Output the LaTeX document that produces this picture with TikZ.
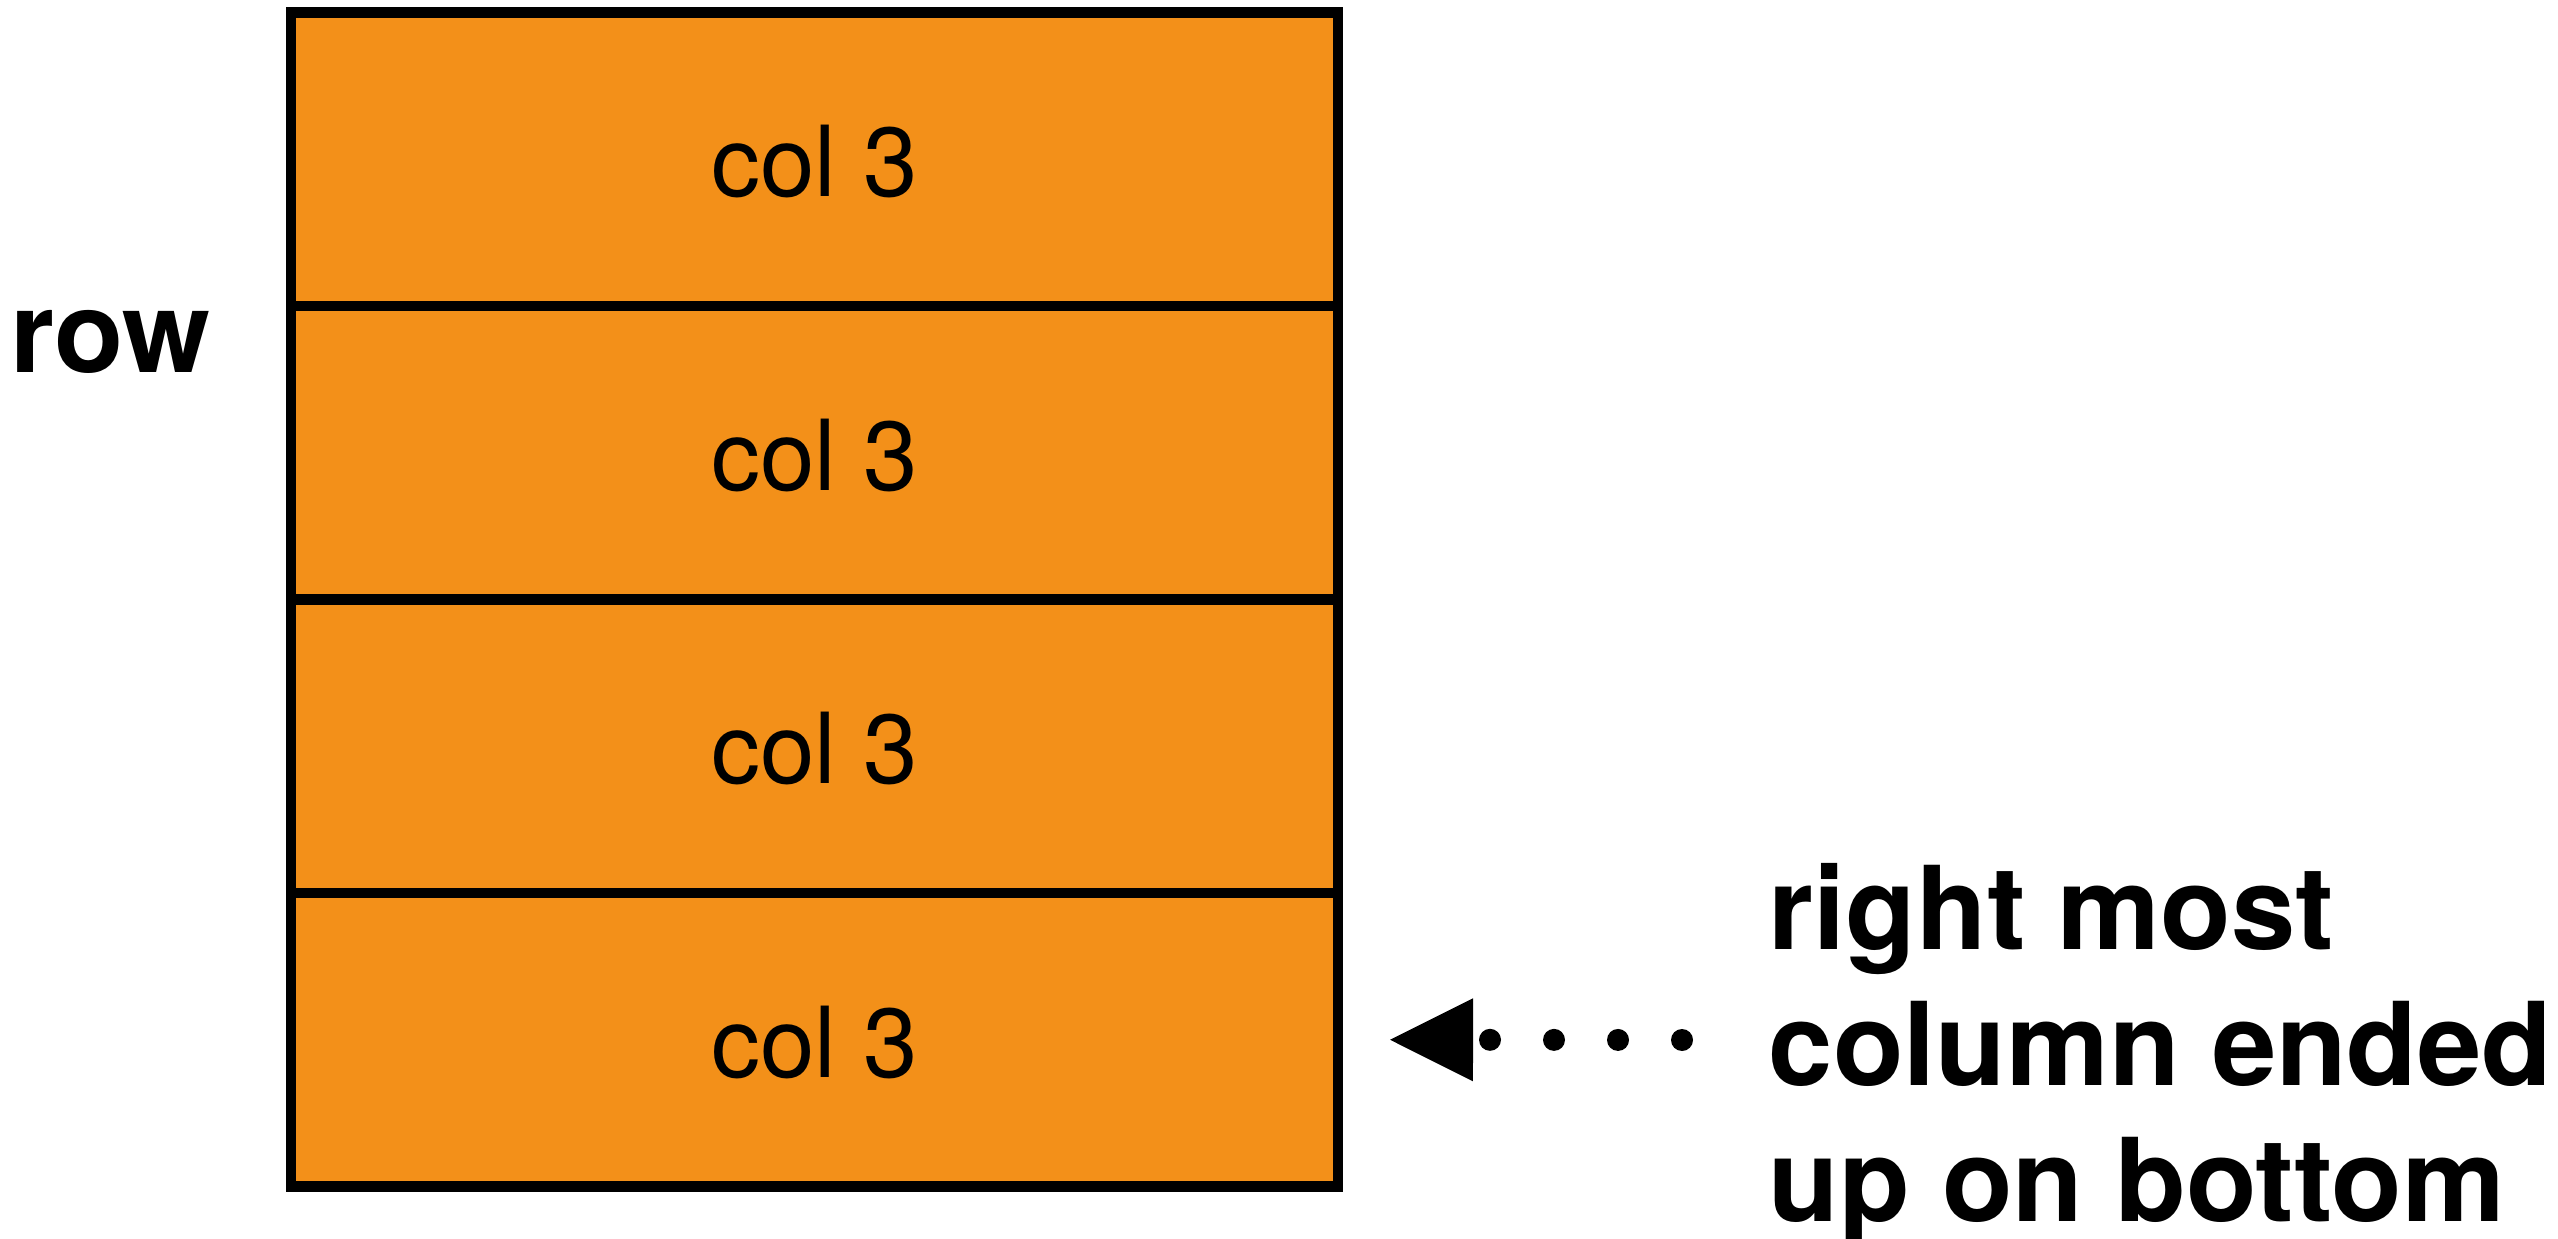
\documentclass[tikz,border=0pt]{standalone}
\usepackage{fontspec}
\setmainfont{TeX Gyre Heros}
\usepackage{tikz}
\usetikzlibrary{arrows.meta,positioning}
\definecolor{boxorange}{HTML}{F39019}

\begin{document}
\begin{tikzpicture}[x=0.25pt,y=-0.25pt,
  rowbox/.style={draw, line width=2.6pt, fill=boxorange,
    minimum width=261.75pt, minimum height=73.375pt, inner sep=0pt, outer sep=0pt,
    text height=18.8pt, text depth=0pt,
    font=\fontsize{24.5}{29}\selectfont},
  dotarrow/.style={line width=5.5pt, line cap=round, dash pattern=on 0pt off 16pt,
    -{Triangle[length=20.75pt,width=20.75pt,line width=0pt]}}]
\useasboundingbox (0,0) rectangle (2558,1239);
% the stacked rows
\node[rowbox] (r1) at (814.5,159.25) {col 3};
\foreach \i [count=\j from 1] in {2,3,4}
  \node[rowbox, below=0pt of r\j] (r\i) {col 3};
% labels
\node[anchor=base west, inner sep=0pt, font=\bfseries\fontsize{28.3}{34}\selectfont] (rowlabel) at (10,373) {row};
\node[anchor=north west, align=left, inner sep=0pt,
  font=\bfseries\fontsize{28.9}{34}\selectfont] (note) at (1768,863)
  {right most\\column ended\\up on bottom};
% pointer to the bottom row
\coordinate (tail) at (1682,1040);
\draw[dotarrow] (tail) -- ([xshift=13pt]r4.east);
\end{tikzpicture}
\end{document}
